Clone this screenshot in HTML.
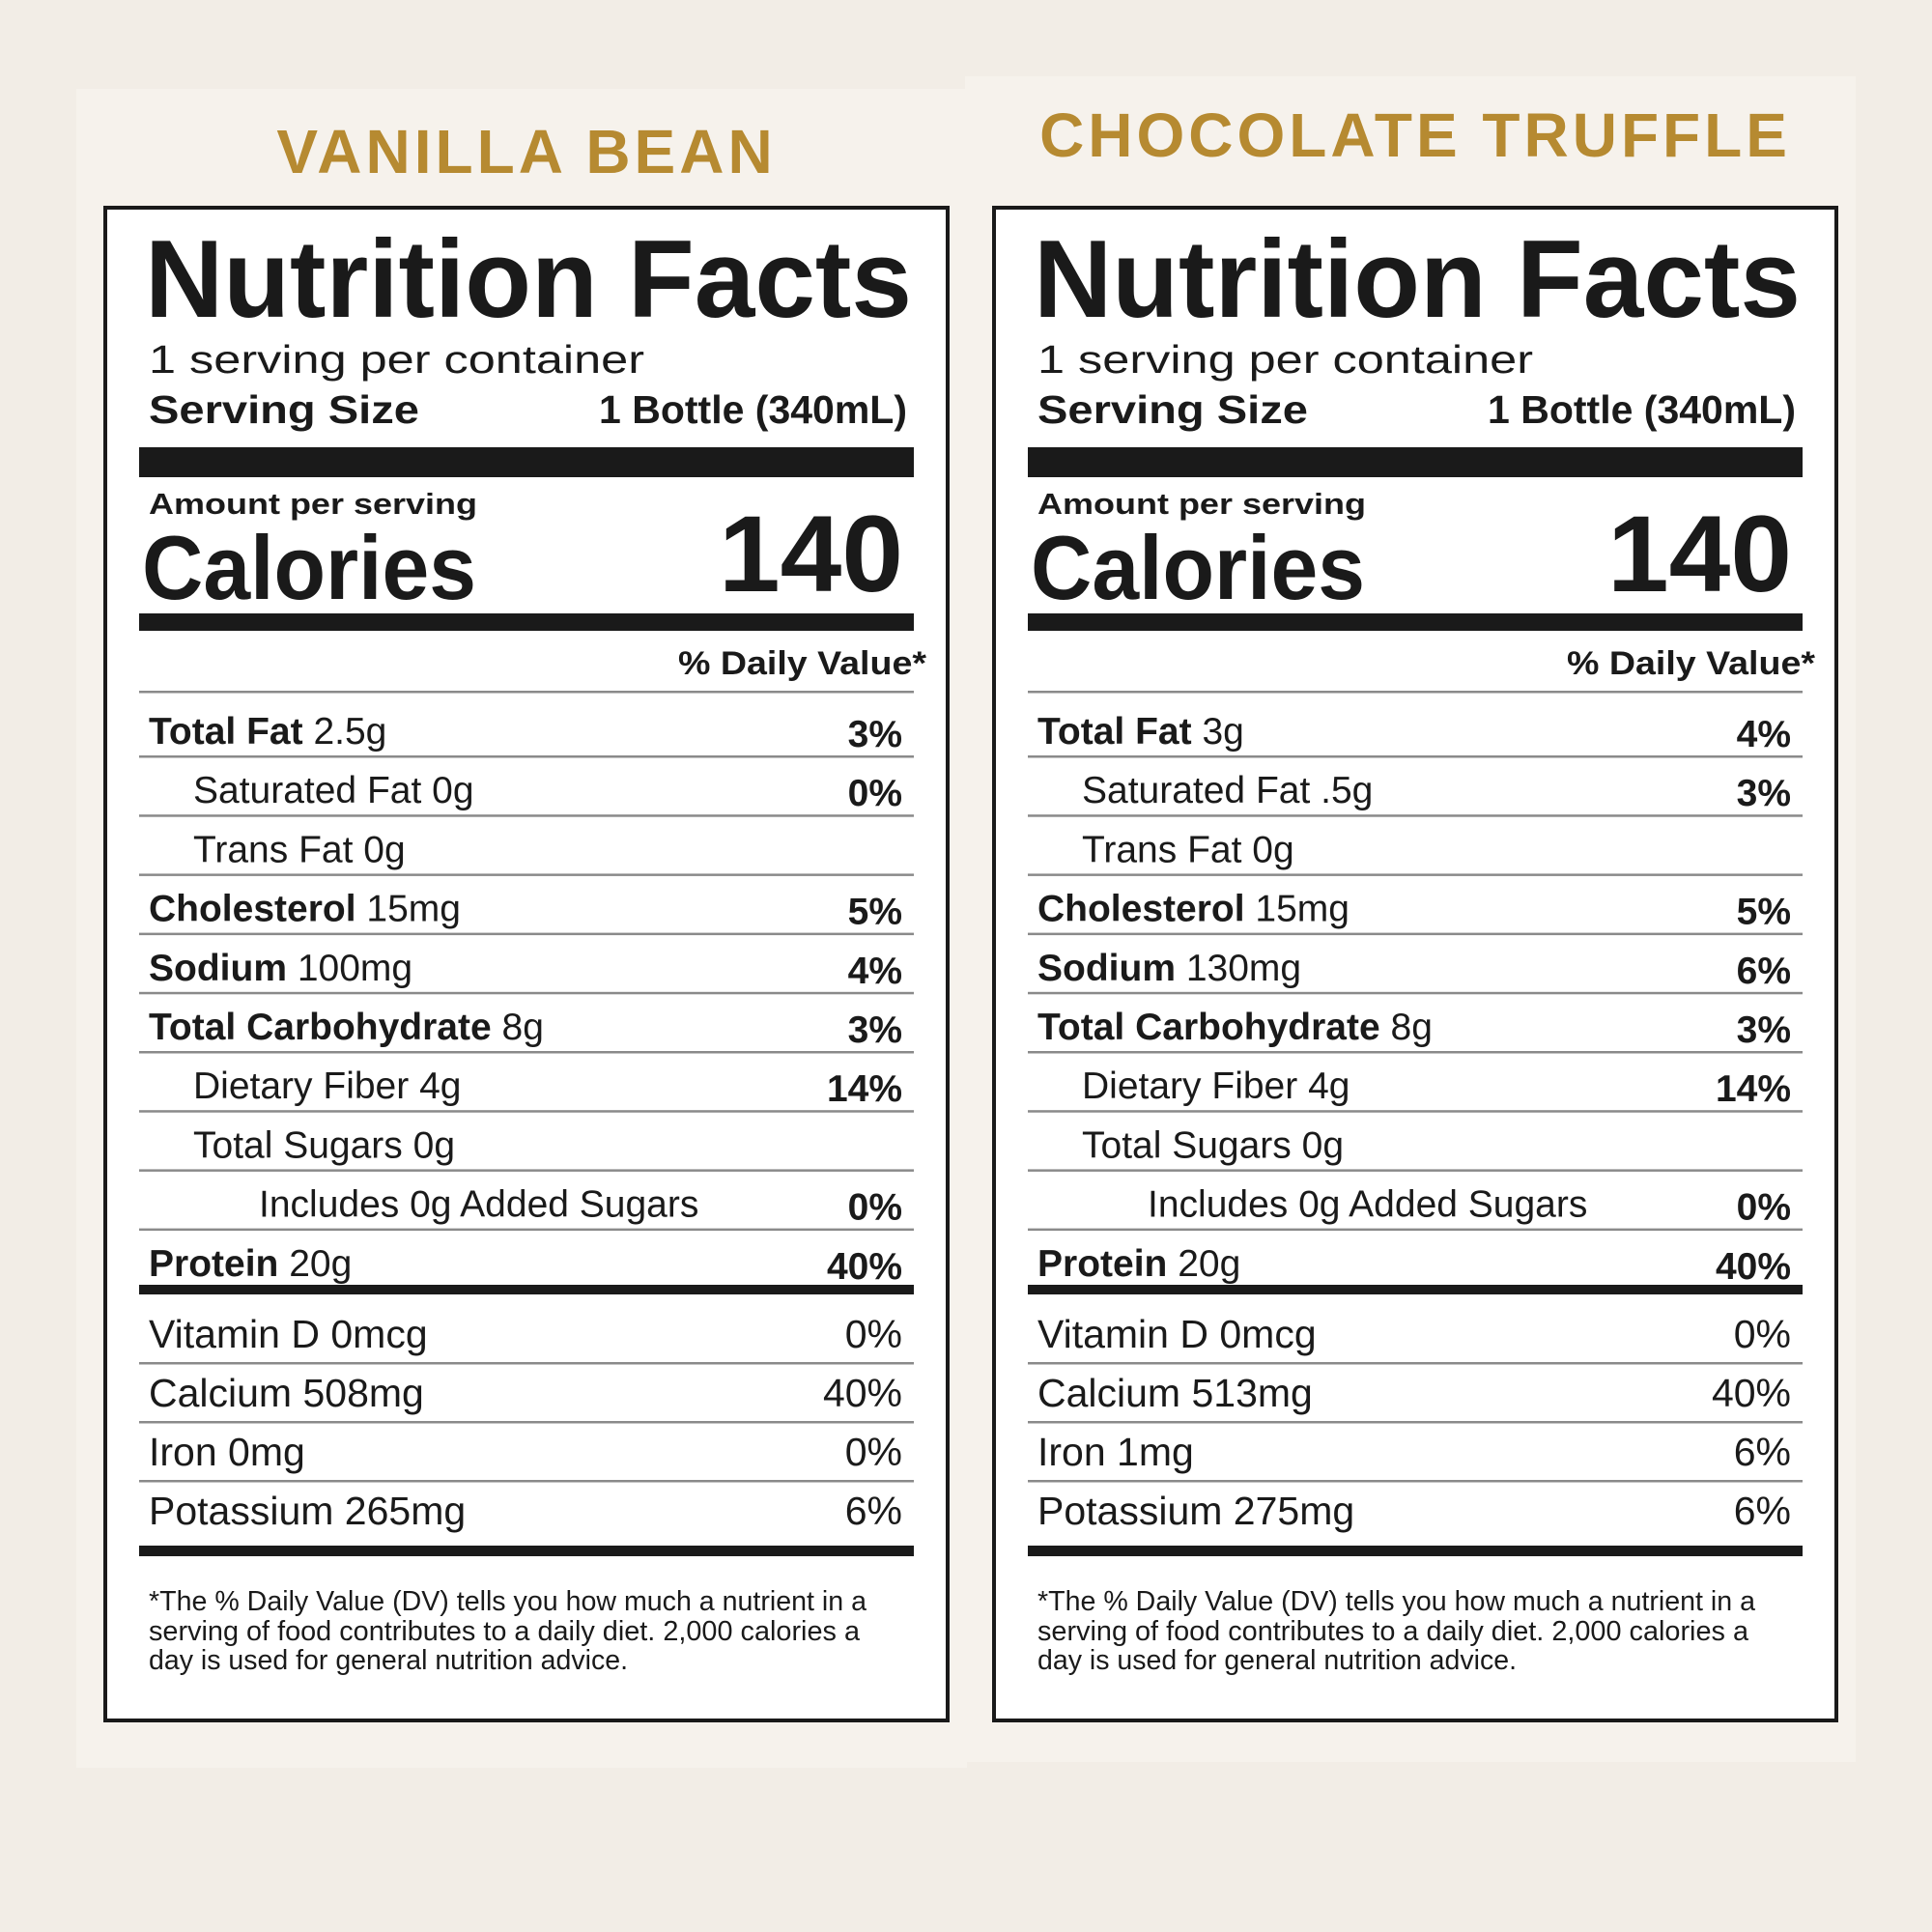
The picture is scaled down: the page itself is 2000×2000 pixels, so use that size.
<!DOCTYPE html>
<html><head><meta charset="utf-8">
<style>
html,body{margin:0;padding:0;background:#f2ede6;}
svg{display:block;font-family:"Liberation Sans",sans-serif;}
</style></head>
<body>
<svg id="root" width="2000" height="2000" viewBox="0 0 2000 2000" xmlns="http://www.w3.org/2000/svg">
<rect x="0" y="0" width="2000" height="2000" fill="#f2ede6"/>
</svg>
<script>
const flavors = ["VANILLA BEAN", "CHOCOLATE TRUFFLE"];
const calories = ["140", "140"];
const rowLabels = ["Total Fat", "Saturated Fat", "Trans Fat", "Cholesterol", "Sodium", "Total Carbohydrate", "Dietary Fiber", "Total Sugars", "Includes", "Protein"];
const rowLevels = [0, 1, 1, 0, 0, 0, 1, 1, 2, 0];
const vanillaAmounts = ["2.5g", "0g", "0g", "15mg", "100mg", "8g", "4g", "0g", "0g Added Sugars", "20g"];
const vanillaPct = ["3%", "0%", "", "5%", "4%", "3%", "14%", "", "0%", "40%"];
const chocoAmounts = ["3g", ".5g", "0g", "15mg", "130mg", "8g", "4g", "0g", "0g Added Sugars", "20g"];
const chocoPct = ["4%", "3%", "", "5%", "6%", "3%", "14%", "", "0%", "40%"];
const vitLabels = ["Vitamin D", "Calcium", "Iron", "Potassium"];
const vanillaVit = ["0mcg", "508mg", "0mg", "265mg"];
const vanillaVitPct = ["0%", "40%", "0%", "6%"];
const chocoVit = ["0mcg", "513mg", "1mg", "275mg"];
const chocoVitPct = ["0%", "40%", "6%", "6%"];

const NS = "http://www.w3.org/2000/svg";
const root = document.getElementById("root");
function el(tag, attrs, parent, txt) {
  const e = document.createElementNS(NS, tag);
  for (const k in attrs) e.setAttribute(k, attrs[k]);
  if (txt !== undefined) e.textContent = txt;
  parent.appendChild(e);
  return e;
}
function panel(i, ox, titleY, amounts, pcts, vits, vitPcts) {
  const g = el("g", {transform: "translate(" + ox + ",0)"}, root);
  
  
  const bg = el("rect", {x: 79, y: i === 0 ? 92 : 79 - 0, width: 922, height: i === 0 ? 1738 : 1745, fill: "#f6f2ec"}, g);
  
  
  const t = el("text", {x: 545, y: titleY, "text-anchor": "middle", "font-size": 64, "font-weight": "bold", fill: "#b68a31", "letter-spacing": 4}, g, flavors[i]);
  
  
  const box = el("rect", {x: 109, y: 215, width: 872, height: 1566, fill: "#fff", stroke: "#1a1a1a", "stroke-width": 4}, g);
  
  
  const txt = (x, y, s, fs, fw, name, opts) => {
    const a = {x: x, y: y, "font-size": fs, "font-weight": fw, fill: "#1a1a1a"};
    Object.assign(a, opts || {});
    const e = el("text", a, g, s);
    
    
    return e;
  };
  const bar = (y, h, name) => {
    const e = el("rect", {x: 144, y: y, width: 802, height: h, fill: "#1a1a1a"}, g);
    
    
  };
  const thin = (y, name) => {
    const e = el("rect", {x: 144, y: y - 1, width: 802, height: 2.5, fill: "#8a8a8a"}, g);
    
    
  };
  txt(150, 328, "Nutrition Facts", 114, "bold", "nutrition-facts-heading", {textLength: 794, lengthAdjust: "spacingAndGlyphs"});
  txt(154, 386, "1 serving per container", 41, "normal", "servings-per-container", {textLength: 513, lengthAdjust: "spacingAndGlyphs"});
  txt(154, 438, "Serving Size", 41, "bold", "serving-size-label", {textLength: 280, lengthAdjust: "spacingAndGlyphs"});
  txt(939, 438, "1 Bottle (340mL)", 41, "bold", "serving-size-value", {"text-anchor": "end"});
  bar(463, 31, "thick-bar-top");
  txt(154, 532, "Amount per serving", 31, "bold", "amount-per-serving", {textLength: 340, lengthAdjust: "spacingAndGlyphs"});
  txt(147, 620, "Calories", 94, "bold", "calories-label", {textLength: 346, lengthAdjust: "spacingAndGlyphs"});
  txt(935, 612, calories[i], 112, "bold", "calories-value", {"text-anchor": "end", textLength: 191, lengthAdjust: "spacingAndGlyphs"});
  bar(635, 18, "thick-bar-calories");
  txt(959, 698, "% Daily Value*", 34, "bold", "daily-value-header", {"text-anchor": "end", textLength: 257, lengthAdjust: "spacingAndGlyphs"});
  thin(716, "divider");
  const indent = [154, 200, 268];
  for (let r = 0; r < rowLabels.length; r++) {
    const base = 770 + (r === 0 ? 0 : 0) + r * 61.2;
    const e = el("text", {x: indent[rowLevels[r]], y: base, "font-size": 39, fill: "#1a1a1a"}, g);
    
    
    const a = el("tspan", {"font-weight": rowLevels[r] === 0 ? "bold" : "normal"}, e, rowLabels[r] + " ");
    el("tspan", {}, e, amounts[r]);
    if (pcts[r]) txt(934, base + 3, pcts[r], 39, "bold", "row-percent", {"text-anchor": "end"});
    if (r < rowLabels.length - 1) thin(783 + r * 61.2, "row-divider");
  }
  bar(1330, 10, "thick-bar-protein");
  for (let v = 0; v < vitLabels.length; v++) {
    const base = 1395 + v * 61;
    txt(154, base, vitLabels[v] + " " + vits[v], 41, "normal", "vitamin-row");
    txt(934, base, vitPcts[v], 41, "normal", "vitamin-percent", {"text-anchor": "end"});
    if (v < vitLabels.length - 1) thin(1411 + v * 61, "vitamin-divider");
  }
  bar(1600, 11, "thick-bar-bottom");
  txt(154, 1667, "*The % Daily Value (DV) tells you how much a nutrient in a", 29, "normal", "footnote-line-1", {textLength: 743, lengthAdjust: "spacingAndGlyphs"});
  txt(154, 1698, "serving of food contributes to a daily diet. 2,000 calories a", 29, "normal", "footnote-line-2", {textLength: 736, lengthAdjust: "spacingAndGlyphs"});
  txt(154, 1728, "day is used for general nutrition advice.", 29, "normal", "footnote-line-3", {textLength: 496, lengthAdjust: "spacingAndGlyphs"});
}
panel(0, 0, 179, vanillaAmounts, vanillaPct, vanillaVit, vanillaVitPct);
panel(1, 920, 162, chocoAmounts, chocoPct, chocoVit, chocoVitPct);
</script>
</body></html>
